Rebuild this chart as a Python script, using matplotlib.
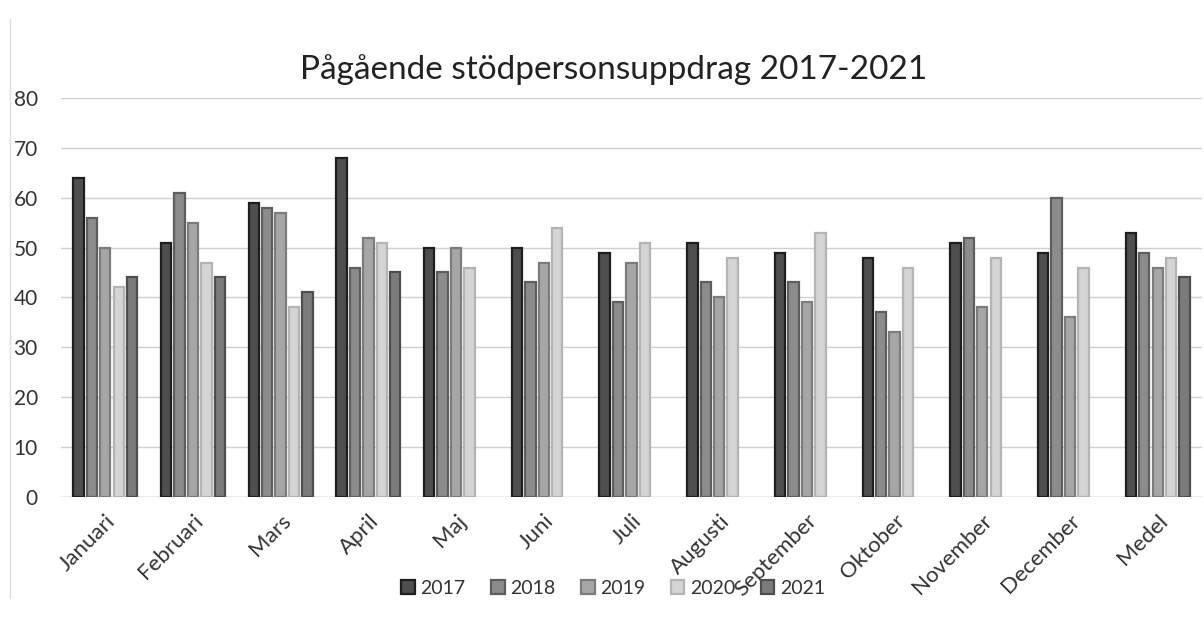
import numpy as np
import matplotlib.pyplot as plt

plt.rcParams["font.family"] = ["Lato", "DejaVu Sans"]

months = ["Januari", "Februari", "Mars", "April", "Maj", "Juni", "Juli",
          "Augusti", "September", "Oktober", "November", "December", "Medel"]
years = ["2017", "2018", "2019", "2020", "2021"]

y2017 = [64, 51, 59, 68, 50, 50, 49, 51, 49, 48, 51, 49, 53]
y2018 = [56, 61, 58, 46, 45, 43, 39, 43, 43, 37, 52, 60, 49]
y2019 = [50, 55, 57, 52, 50, 47, 47, 40, 39, 33, 38, 36, 46]
y2020 = [42, 47, 38, 51, 46, 54, 51, 48, 53, 46, 48, 46, 48]
y2021 = [44, 44, 41, 45, np.nan, np.nan, np.nan, np.nan, np.nan, np.nan,
         np.nan, np.nan, 44]

series = [y2017, y2018, y2019, y2020, y2021]
fills = ["#4f4f4f", "#8c8c8c", "#a6a6a6", "#d4d4d4", "#7b7b7b"]
edges = ["#1e1e1e", "#5e5e5e", "#7c7c7c", "#b4b4b4", "#4e4e4e"]

fig = plt.figure(figsize=(12.04, 6.17), dpi=100)
ax = fig.add_axes([0.051, 0.195, 0.947, 0.646])

x = np.arange(len(months))
step = 0.153
width = 0.118
for i, vals in enumerate(series):
    ax.bar(x + (i - 2) * step, vals, width, color=fills[i],
           edgecolor=edges[i], linewidth=1.6, label=years[i], zorder=3)

ax.set_xlim(-0.5, len(months) - 0.5)
ax.set_ylim(0, 80)
ax.set_yticks(range(0, 81, 10))
ax.tick_params(axis="y", length=0, labelsize=15, colors="#333333", pad=17)
ax.tick_params(axis="x", length=0, labelsize=16, colors="#333333", pad=10)
ax.set_xticks(x)
ax.set_xticklabels(months, rotation=45, ha="right", rotation_mode="anchor")
ax.grid(axis="y", color="#d0d0d0", linewidth=1, zorder=0)
for s in ax.spines.values():
    s.set_visible(False)
ax.axhline(0, color="#c8c8c8", linewidth=1, zorder=2)

ax.set_title("Pågående stödpersonsuppdrag 2017-2021", fontsize=24,
             color="#222222", pad=14, x=0.484)

ax.legend(loc="center", bbox_to_anchor=(0.484, -0.23), ncol=5, frameon=False,
          fontsize=14, handlelength=0.7, handleheight=0.7,
          handletextpad=0.3, columnspacing=1.3, labelcolor="#333333")

# faint scan frame on the left
fig.add_artist(plt.Line2D([0.008, 0.008], [0.03, 0.97], color="#dddddd",
                          linewidth=1, transform=fig.transFigure))

fig.savefig("out.png", dpi=100)
